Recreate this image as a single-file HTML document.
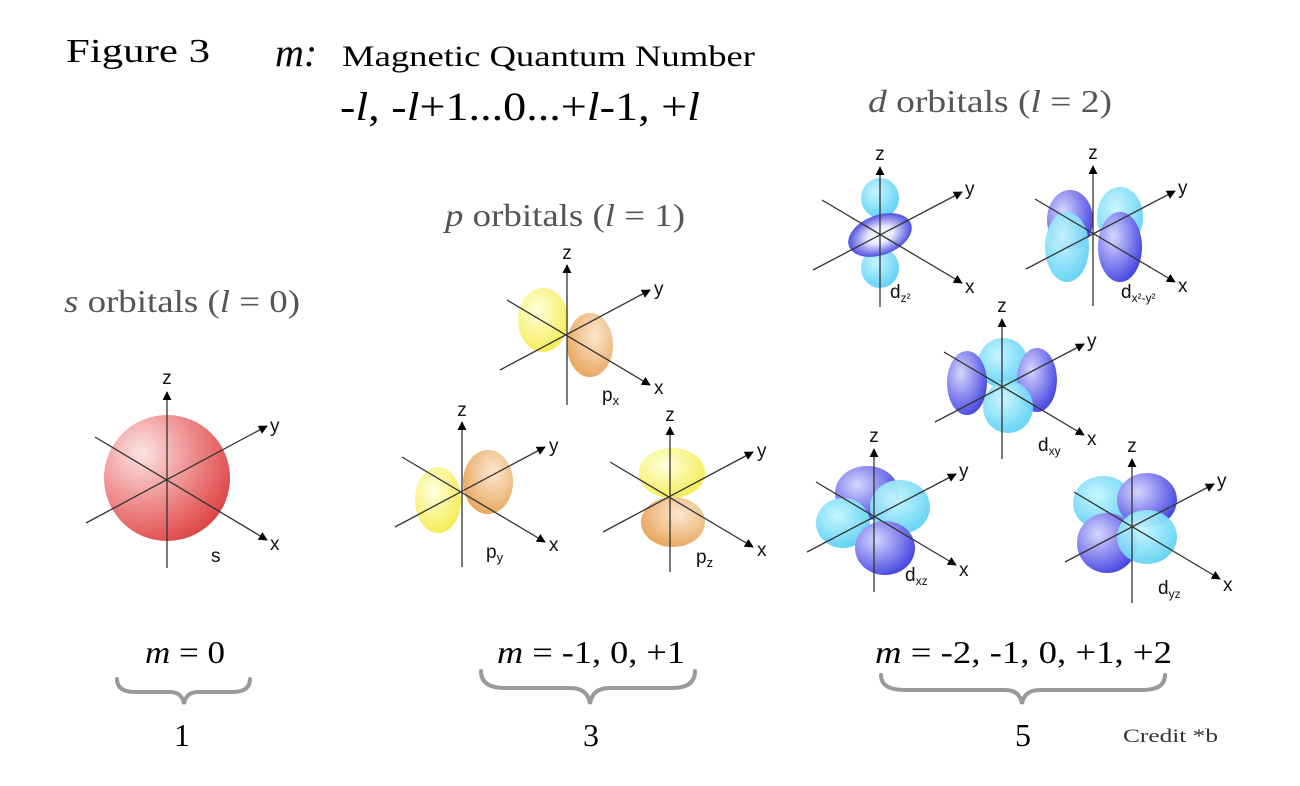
<!DOCTYPE html>
<html><head><meta charset="utf-8"><style>
body{margin:0;background:#fff;width:1300px;height:786px;overflow:hidden}
svg{display:block}
.ax line{stroke:#333;stroke-width:1.3}
.al{font-family:"Liberation Sans",sans-serif;font-size:19px;fill:#111}
.serif{font-family:"Liberation Serif",serif}
</style></head><body>
<svg width="1300" height="786" viewBox="0 0 1300 786">
<defs>
<marker id="ar" viewBox="0 0 10 10" refX="9" refY="5" markerWidth="9" markerHeight="9" markerUnits="userSpaceOnUse" orient="auto"><path d="M0,0L10,5L0,10z" fill="#000"/></marker>
<radialGradient id="gs" cx="0.3" cy="0.3" r="0.8"><stop offset="0" stop-color="#fbe4e4"/><stop offset="0.5" stop-color="#ef8f8f"/><stop offset="1" stop-color="#dd4040"/></radialGradient>
<radialGradient id="gy" cx="0.4" cy="0.35" r="0.7"><stop offset="0" stop-color="#ffffe0"/><stop offset="1" stop-color="#f4ec50"/></radialGradient>
<radialGradient id="go" cx="0.6" cy="0.35" r="0.7"><stop offset="0" stop-color="#fbe8d0"/><stop offset="1" stop-color="#e8a45a"/></radialGradient>
<radialGradient id="gc" cx="0.4" cy="0.35" r="0.7"><stop offset="0" stop-color="#c8f6ff"/><stop offset="1" stop-color="#5cd0f4"/></radialGradient>
<radialGradient id="gb" cx="0.35" cy="0.35" r="0.75"><stop offset="0" stop-color="#d6d6ff"/><stop offset="1" stop-color="#3c3ce0"/></radialGradient>
<radialGradient id="gt" cx="0.5" cy="0.5" r="0.5"><stop offset="0" stop-color="#fff"/><stop offset="0.4" stop-color="#e8e8ff"/><stop offset="1" stop-color="#5050e0"/></radialGradient>
</defs>

<!-- titles -->
<text x="66" y="62" class="serif" font-size="34" textLength="144" lengthAdjust="spacingAndGlyphs">Figure 3</text>
<text x="275" y="66" class="serif" font-size="40" font-style="italic">m:</text>
<text x="342" y="66" class="serif" font-size="30" textLength="413" lengthAdjust="spacingAndGlyphs">Magnetic Quantum Number</text>
<text x="340" y="120" class="serif" font-size="40" textLength="360" lengthAdjust="spacingAndGlyphs">-<tspan font-style="italic">l</tspan>, -<tspan font-style="italic">l</tspan>+1...0...+<tspan font-style="italic">l</tspan>-1, +<tspan font-style="italic">l</tspan></text>
<text x="868" y="112" class="serif" font-size="32" fill="#555" textLength="244" lengthAdjust="spacingAndGlyphs"><tspan font-style="italic">d</tspan> orbitals (<tspan font-style="italic">l</tspan> = 2)</text>
<text x="445" y="226" class="serif" font-size="32" fill="#555" textLength="240" lengthAdjust="spacingAndGlyphs"><tspan font-style="italic">p</tspan> orbitals (<tspan font-style="italic">l</tspan> = 1)</text>
<text x="64" y="312" class="serif" font-size="32" fill="#555" textLength="236" lengthAdjust="spacingAndGlyphs"><tspan font-style="italic">s</tspan> orbitals (<tspan font-style="italic">l</tspan> = 0)</text>

<!-- s -->
<g transform="translate(167,480)">
<circle cx="0" cy="-2" r="63" fill="url(#gs)"/>
<g class="ax"><line x1="-72" y1="-43" x2="100" y2="60" marker-end="url(#ar)"/><line x1="-81" y1="43" x2="100" y2="-54" marker-end="url(#ar)"/><line x1="0" y1="88" x2="0" y2="-88" marker-end="url(#ar)"/></g>
<text class="al" x="0" y="-96" text-anchor="middle">z</text><text class="al" x="103" y="-48">y</text><text class="al" x="103" y="70">x</text>
<text class="al" x="44" y="82" font-size="21">s</text>
</g>

<!-- px -->
<g transform="translate(567,335)">
<ellipse cx="-24" cy="-15" rx="25" ry="32" fill="url(#gy)"/><ellipse cx="23" cy="10" rx="23" ry="32" fill="url(#go)"/>
<g class="ax"><line x1="-60" y1="-35" x2="83" y2="50" marker-end="url(#ar)"/><line x1="-67" y1="35" x2="83" y2="-45" marker-end="url(#ar)"/><line x1="0" y1="70" x2="0" y2="-70" marker-end="url(#ar)"/></g>
<text class="al" x="0" y="-76" text-anchor="middle">z</text><text class="al" x="87" y="-40">y</text><text class="al" x="87" y="59">x</text>
<text class="al" x="35" y="66">p<tspan font-size="13" dy="4">x</tspan></text>
</g>
<!-- py -->
<g transform="translate(462,492)">
<ellipse cx="-24" cy="8" rx="23" ry="33" fill="url(#gy)"/><ellipse cx="26" cy="-10" rx="25" ry="32" fill="url(#go)"/>
<g class="ax"><line x1="-60" y1="-35" x2="83" y2="50" marker-end="url(#ar)"/><line x1="-67" y1="35" x2="83" y2="-45" marker-end="url(#ar)"/><line x1="0" y1="75" x2="0" y2="-70" marker-end="url(#ar)"/></g>
<text class="al" x="0" y="-76" text-anchor="middle">z</text><text class="al" x="87" y="-40">y</text><text class="al" x="87" y="59">x</text>
<text class="al" x="24" y="66">p<tspan font-size="13" dy="4">y</tspan></text>
</g>
<!-- pz -->
<g transform="translate(670,497)">
<ellipse cx="2" cy="-24" rx="33" ry="25" fill="url(#gy)"/><ellipse cx="3" cy="25" rx="32" ry="25" fill="url(#go)"/>
<g class="ax"><line x1="-60" y1="-35" x2="83" y2="50" marker-end="url(#ar)"/><line x1="-67" y1="35" x2="83" y2="-45" marker-end="url(#ar)"/><line x1="0" y1="75" x2="0" y2="-70" marker-end="url(#ar)"/></g>
<text class="al" x="0" y="-76" text-anchor="middle">z</text><text class="al" x="87" y="-40">y</text><text class="al" x="87" y="59">x</text>
<text class="al" x="26" y="66">p<tspan font-size="13" dy="4">z</tspan></text>
</g>

<!-- dz2 -->
<g transform="translate(880,235)">
<ellipse cx="0" cy="-37" rx="19" ry="20" fill="url(#gc)"/><ellipse cx="0" cy="33" rx="19" ry="20" fill="url(#gc)"/>
<ellipse cx="0" cy="0" rx="33" ry="20" transform="rotate(-20)" fill="url(#gt)"/>
<g class="ax"><line x1="-58" y1="-35" x2="82" y2="48" marker-end="url(#ar)"/><line x1="-67" y1="35" x2="82" y2="-43" marker-end="url(#ar)"/><line x1="0" y1="72" x2="0" y2="-68" marker-end="url(#ar)"/></g>
<text class="al" x="0" y="-75" text-anchor="middle">z</text><text class="al" x="85" y="-40">y</text><text class="al" x="85" y="58">x</text>
<text class="al" x="10" y="63">d<tspan font-size="12" dy="4">z²</tspan></text>
</g>
<!-- dx2-y2 -->
<g transform="translate(1093,234)">
<ellipse cx="-23" cy="-14" rx="23" ry="30" fill="url(#gb)"/><ellipse cx="27" cy="-17" rx="23" ry="30" fill="url(#gc)" opacity="0.95"/>
<ellipse cx="-26" cy="13" rx="22" ry="35" fill="url(#gc)" opacity="0.95"/><ellipse cx="27" cy="13" rx="22" ry="35" fill="url(#gb)"/>
<g class="ax"><line x1="-58" y1="-35" x2="82" y2="48" marker-end="url(#ar)"/><line x1="-67" y1="35" x2="82" y2="-43" marker-end="url(#ar)"/><line x1="0" y1="72" x2="0" y2="-68" marker-end="url(#ar)"/></g>
<text class="al" x="0" y="-75" text-anchor="middle">z</text><text class="al" x="85" y="-40">y</text><text class="al" x="85" y="58">x</text>
<text class="al" x="28" y="64">d<tspan font-size="12" dy="4">x²-y²</tspan></text>
</g>
<!-- dxy -->
<g transform="translate(1002,387)">
<ellipse cx="1" cy="-24" rx="25" ry="25" fill="url(#gc)"/>
<ellipse cx="-35" cy="-4" rx="20" ry="32" fill="url(#gb)"/><ellipse cx="35" cy="-7" rx="20" ry="32" fill="url(#gb)"/>
<ellipse cx="6" cy="20" rx="25" ry="26" fill="url(#gc)" opacity="0.95"/>
<g class="ax"><line x1="-58" y1="-35" x2="82" y2="48" marker-end="url(#ar)"/><line x1="-67" y1="35" x2="82" y2="-43" marker-end="url(#ar)"/><line x1="0" y1="72" x2="0" y2="-68" marker-end="url(#ar)"/></g>
<text class="al" x="0" y="-75" text-anchor="middle">z</text><text class="al" x="85" y="-40">y</text><text class="al" x="85" y="58">x</text>
<text class="al" x="36" y="64">d<tspan font-size="12" dy="4">xy</tspan></text>
</g>
<!-- dxz -->
<g transform="translate(874,517)">
<ellipse cx="-7" cy="-24" rx="32" ry="27" fill="url(#gb)"/><ellipse cx="-31" cy="6" rx="27" ry="25" fill="url(#gc)"/>
<ellipse cx="26" cy="-10" rx="30" ry="27" fill="url(#gc)" opacity="0.95"/><ellipse cx="11" cy="31" rx="30" ry="27" fill="url(#gb)"/>
<g class="ax"><line x1="-58" y1="-35" x2="82" y2="48" marker-end="url(#ar)"/><line x1="-67" y1="35" x2="82" y2="-43" marker-end="url(#ar)"/><line x1="0" y1="75" x2="0" y2="-68" marker-end="url(#ar)"/></g>
<text class="al" x="0" y="-75" text-anchor="middle">z</text><text class="al" x="85" y="-40">y</text><text class="al" x="85" y="59">x</text>
<text class="al" x="31" y="64">d<tspan font-size="12" dy="4">xz</tspan></text>
</g>
<!-- dyz -->
<g transform="translate(1132,527)">
<ellipse cx="-29" cy="-24" rx="30" ry="27" fill="url(#gc)"/><ellipse cx="15" cy="-27" rx="30" ry="27" fill="url(#gb)"/>
<ellipse cx="-25" cy="16" rx="30" ry="30" fill="url(#gb)"/><ellipse cx="15" cy="10" rx="30" ry="27" fill="url(#gc)" opacity="0.95"/>
<g class="ax"><line x1="-58" y1="-35" x2="88" y2="52" marker-end="url(#ar)"/><line x1="-67" y1="35" x2="82" y2="-43" marker-end="url(#ar)"/><line x1="0" y1="76" x2="0" y2="-68" marker-end="url(#ar)"/></g>
<text class="al" x="0" y="-75" text-anchor="middle">z</text><text class="al" x="85" y="-40">y</text><text class="al" x="91" y="64">x</text>
<text class="al" x="26" y="67">d<tspan font-size="12" dy="4">yz</tspan></text>
</g>

<!-- m values -->
<text x="145" y="663" class="serif" font-size="32" textLength="80" lengthAdjust="spacingAndGlyphs"><tspan font-style="italic">m</tspan> = 0</text>
<text x="497" y="663" class="serif" font-size="32" textLength="188" lengthAdjust="spacingAndGlyphs"><tspan font-style="italic">m</tspan> = -1, 0, +1</text>
<text x="875" y="663" class="serif" font-size="32" textLength="297" lengthAdjust="spacingAndGlyphs"><tspan font-style="italic">m</tspan> = -2, -1, 0, +1, +2</text>
<g fill="none" stroke="#9a9a9a" stroke-width="4" stroke-linecap="round">
<path d="M117,679 Q117,692 135,692 L170,692 Q182,692 184,704 Q186,692 198,692 L232,692 Q250,692 250,679"/>
<path d="M481,671 Q481,688 505,688 L570,688 Q588,688 590,704 Q592,688 610,688 L672,688 Q695,688 695,671"/>
<path d="M881,675 Q881,690 905,690 L1005,690 Q1020,690 1022,704 Q1024,690 1040,690 L1142,690 Q1165,690 1165,675"/>
</g>
<text x="182" y="746" class="serif" font-size="32" text-anchor="middle">1</text>
<text x="591" y="746" class="serif" font-size="32" text-anchor="middle">3</text>
<text x="1023" y="746" class="serif" font-size="32" text-anchor="middle">5</text>
<text x="1123" y="742" class="serif" font-size="19" fill="#333" textLength="95" lengthAdjust="spacingAndGlyphs">Credit *b</text>
</svg>
</body></html>
